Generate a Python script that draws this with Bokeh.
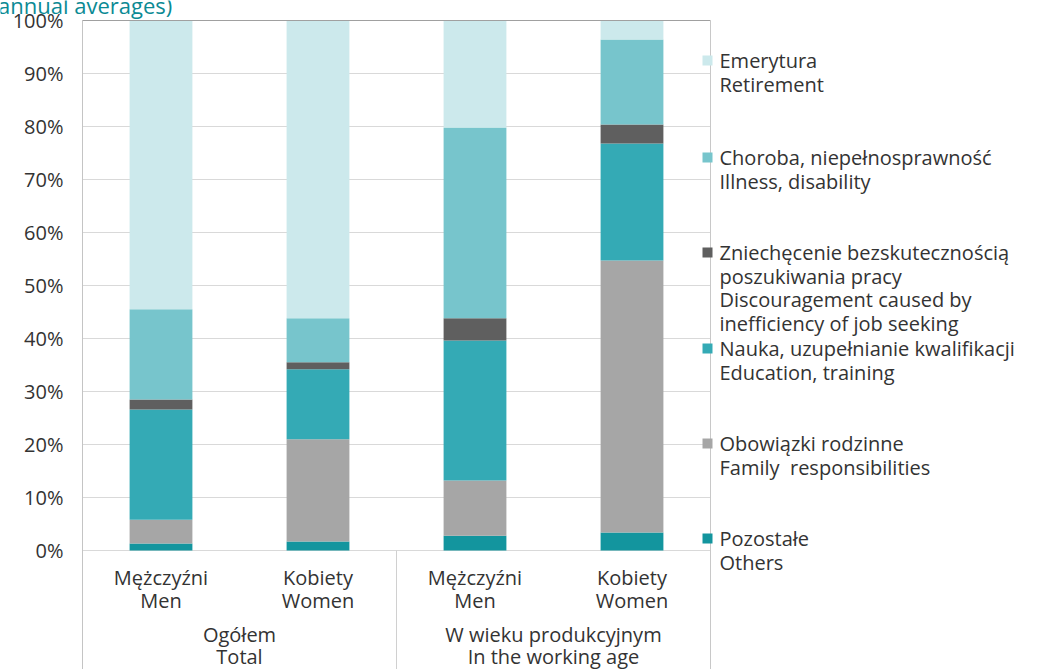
from bokeh.plotting import figure
from bokeh.models import ColumnDataSource, Range1d
from bokeh.core.properties import value
from bokeh.embed import file_html
from bokeh.resources import INLINE

# ---------------- data ----------------
groups_pl = ["Ogółem", "W wieku produkcyjnym"]
groups_en = ["Total", "In the working age"]
sex_pl = ["Mężczyźni", "Kobiety", "Mężczyźni", "Kobiety"]
sex_en = ["Men", "Women", "Men", "Women"]

others = [1.3, 1.7, 2.8, 3.4]
family = [4.5, 19.3, 10.4, 51.3]
education = [20.8, 13.2, 26.4, 22.1]
discouragement = [1.9, 1.3, 4.2, 3.6]
illness = [17.0, 8.3, 36.0, 16.0]
retirement = [54.5, 56.2, 20.2, 3.6]

y_ticks = [0, 10, 20, 30, 40, 50, 60, 70, 80, 90, 100]
y_tick_labels = ["0%", "10%", "20%", "30%", "40%", "50%", "60%", "70%", "80%", "90%", "100%"]

legend_retirement = ["Emerytura", "Retirement"]
legend_illness = ["Choroba, niepełnosprawność", "Illness, disability"]
legend_discouragement = ["Zniechęcenie bezskutecznością", "poszukiwania pracy",
                         "Discouragement caused by", "inefficiency of job seeking"]
legend_education = ["Nauka, uzupełnianie kwalifikacji", "Education, training"]
legend_family = ["Obowiązki rodzinne", "Family\u00a0 responsibilities"]
legend_others = ["Pozostałe", "Others"]

title_fragment = "(annual averages)"

# ---------------- styles / layout ----------------
C_OTHERS = "#13959e"
C_FAMILY = "#a6a6a6"
C_EDU = "#34aab5"
C_DISC = "#5f5f5f"
C_ILL = "#77c5cc"
C_RET = "#cce9ec"
TXT = "#333333"
FONT = value("Open Sans")
FS = "20px"

W, H = 1041, 669
PX_Y = 5.3          # pixels per percentage point
PX_X = 157          # pixels per category
Y0_WIN = 550        # picture y of 0%
X0_WIN = 82         # picture x of plot left


def yd(win_y):
    return (Y0_WIN - win_y) / PX_Y


def xd(win_x):
    return (win_x - X0_WIN) / PX_X


p = figure(width=W, height=H, output_backend="svg", toolbar_location=None,
           x_range=Range1d(xd(0), xd(W)), y_range=Range1d(yd(H), yd(0)),
           x_axis_location=None, y_axis_location=None,
           min_border_left=0, min_border_top=0, min_border_right=0, min_border_bottom=0)
p.outline_line_color = None
p.grid.visible = False
p.background_fill_color = "white"
p.border_fill_color = "white"

n = len(sex_pl)
xs = [i + 0.5 for i in range(n)]
y_bottom = yd(H)

# gridlines (only across category area)
grid_y = y_ticks[:-1]
p.segment(x0=[0] * len(grid_y), x1=[n] * len(grid_y), y0=grid_y, y1=grid_y,
          line_color="#d9d9d9", line_width=1)

# bars
src = ColumnDataSource(dict(x=xs, others=others, family=family, education=education,
                            discouragement=discouragement, illness=illness,
                            retirement=retirement))
stack = ["others", "family", "education", "discouragement", "illness", "retirement"]
colors = [C_OTHERS, C_FAMILY, C_EDU, C_DISC, C_ILL, C_RET]
p.vbar_stack(stack, x="x", width=0.4, source=src, fill_color=colors, line_color=None)

# axis line, top border, right border, group separator
p.segment(x0=[0], x1=[0], y0=[100], y1=[y_bottom], line_color="#c4c4c4", line_width=1)
p.segment(x0=[0], x1=[n], y0=[100], y1=[100], line_color="#a0a0a0", line_width=1)
p.segment(x0=[n], x1=[n], y0=[100], y1=[y_bottom], line_color="#c8c8c8", line_width=1)
p.segment(x0=[n / 2], x1=[n / 2], y0=[0], y1=[y_bottom], line_color="#d0d0d0", line_width=1)

# y tick labels
p.text(x=[xd(63)] * len(y_ticks), y=y_ticks, text=y_tick_labels, text_font=FONT,
       text_font_size=FS, text_color=TXT, text_align="right", text_baseline="middle")

# category labels
p.text(x=xs, y=[yd(577)] * n, text=sex_pl, text_font=FONT, text_font_size=FS,
       text_color=TXT, text_align="center", text_baseline="middle")
p.text(x=xs, y=[yd(600)] * n, text=sex_en, text_font=FONT, text_font_size=FS,
       text_color=TXT, text_align="center", text_baseline="middle")
gx = [1.0, 3.0]
p.text(x=gx, y=[yd(634)] * 2, text=groups_pl, text_font=FONT, text_font_size=FS,
       text_color=TXT, text_align="center", text_baseline="middle")
p.text(x=gx, y=[yd(656)] * 2, text=groups_en, text_font=FONT, text_font_size=FS,
       text_color=TXT, text_align="center", text_baseline="middle")

# legend
entries = [
    (legend_retirement, C_RET, 60),
    (legend_illness, C_ILL, 157),
    (legend_discouragement, C_DISC, 252),
    (legend_education, C_EDU, 348),
    (legend_family, C_FAMILY, 443),
    (legend_others, C_OTHERS, 538),
]
LINE = 23.6
for lines, col, y0 in entries:
    p.scatter(x=[xd(707)], y=[yd(y0)], marker="square", size=10, fill_color=col,
              line_color=None)
    p.text(x=[xd(719)] * len(lines), y=[yd(y0 + i * LINE) for i in range(len(lines))],
           text=lines, text_font=FONT, text_font_size=FS, text_color=TXT,
           text_align="left", text_baseline="middle")

# title fragment, cut by the top edge as in the reference
p.text(x=[xd(-9)], y=[yd(4)], text=[title_fragment], text_font=FONT,
       text_font_size="22px", text_color="#0b8a94", text_align="left",
       text_baseline="alphabetic")

open("out.html", "w").write(file_html(p, INLINE))
